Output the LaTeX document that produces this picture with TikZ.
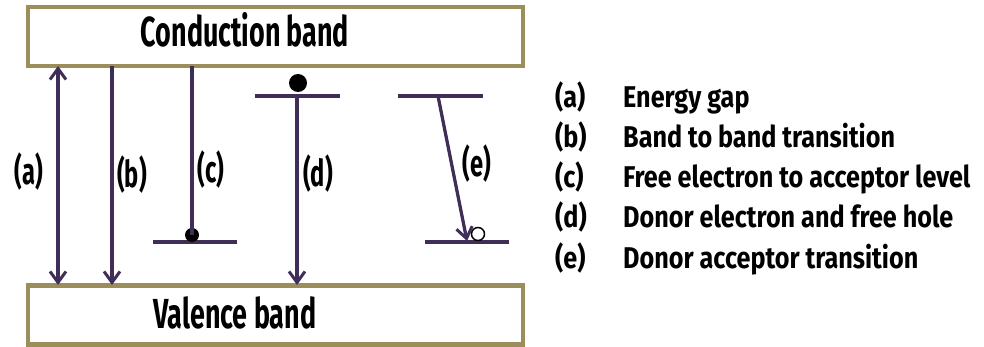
\documentclass[tikz,border=0pt]{standalone}
\usepackage{fontspec}
\setmainfont{Fira Sans}[FakeStretch=0.64]
\newfontfamily\legfont{Fira Sans}[FakeStretch=0.84]
\usetikzlibrary{arrows.meta}
\definecolor{bandc}{HTML}{9B8E5B}
\definecolor{linec}{HTML}{3F2F58}
\begin{document}
\begin{tikzpicture}[x=1pt,y=-1pt,
  band/.style={draw=bandc, line width=4.5pt, minimum width=495pt, minimum height=59pt, inner sep=0pt},
  bandtext/.style={font=\bfseries\fontsize{42}{42}\selectfont, anchor=base, inner sep=0pt},
  trans/.style={draw=linec, line width=3.3pt},
  tip/.style={-{Straight Barb[length=11pt,width=16pt,line width=3pt]}},
  dtip/.style={{Straight Barb[length=11pt,width=16pt,line width=3pt]}-{Straight Barb[length=11pt,width=16pt,line width=3pt]}},
  lvl/.style={draw=linec, line width=3.5pt},
  lab/.style={font=\bfseries\fontsize{37}{37}\selectfont, anchor=base, inner sep=0pt},
  leg/.style={font=\legfont\bfseries\fontsize{30}{30}\selectfont, anchor=base west, inner sep=0pt}]
\useasboundingbox (0,0) rectangle (984,347);
% bands
\node[band] (cb) at (275.5,36.5) {};
\node[band] (vb) at (275.5,315) {};
\node[bandtext] (cbt) at (245,47) {Conduction band};
\node[bandtext] (vbt) at (235,328) {Valence band};
% coordinates on band edges
\coordinate (a1) at (58,66); \coordinate (a2) at (58,285);
\coordinate (b1) at (112,66); \coordinate (b2) at (112,285);
\coordinate (c1) at (192,66);
\coordinate (d2) at (297,285);
% levels
\coordinate (cL1) at (153,242); \coordinate (cL2) at (237,242);
\coordinate (dL1) at (255,96); \coordinate (dL2) at (340,96);
\coordinate (eT1) at (398,96); \coordinate (eT2) at (483,96);
\coordinate (eB1) at (425,242); \coordinate (eB2) at (509,242);
\draw[lvl] (cL1) -- (cL2);
\draw[lvl] (dL1) -- (dL2);
\draw[lvl] (eT1) -- (eT2);
\draw[lvl] (eB1) -- (eB2);
% particles
\node[circle, fill=black, minimum size=14pt, inner sep=0pt] (ce) at (192,235) {};
\node[circle, fill=black, minimum size=18pt, inner sep=0pt] (de) at (298,83) {};
\node[circle, draw=black, fill=white, line width=1.5pt, minimum size=13pt, inner sep=0pt] (eh) at (478,234) {};
% transitions
\draw[trans, dtip] (a1) -- (a2);
\draw[trans, tip] (b1) -- (b2);
\draw[trans] (c1) -- (ce.center);
\coordinate (d1) at (297,96);
\draw[trans, tip] (d1) -- (d2);
\coordinate (e1) at (438,96); \coordinate (e2) at (467,241);
\draw[trans, tip] (e1) -- (e2);
% labels
\node[lab] (la) at (29,185) {(a)};
\node[lab] (lb) at (132,188) {(b)};
\node[lab] (lc) at (211,183) {(c)};
\node[lab] (ld) at (318,187) {(d)};
\node[lab] (le) at (477,177) {(e)};
% legend
\foreach \k/\t [count=\i] in {a/Energy gap, b/Band to band transition, c/Free electron to acceptor level, d/Donor electron and free hole, e/Donor acceptor transition}{
  \node[leg] (k\k) at (555,{108+40*(\i-1)}) {(\k)};
  \node[leg] (t\k) at (623,{108+40*(\i-1)}) {\t};
}
\end{tikzpicture}
\end{document}
